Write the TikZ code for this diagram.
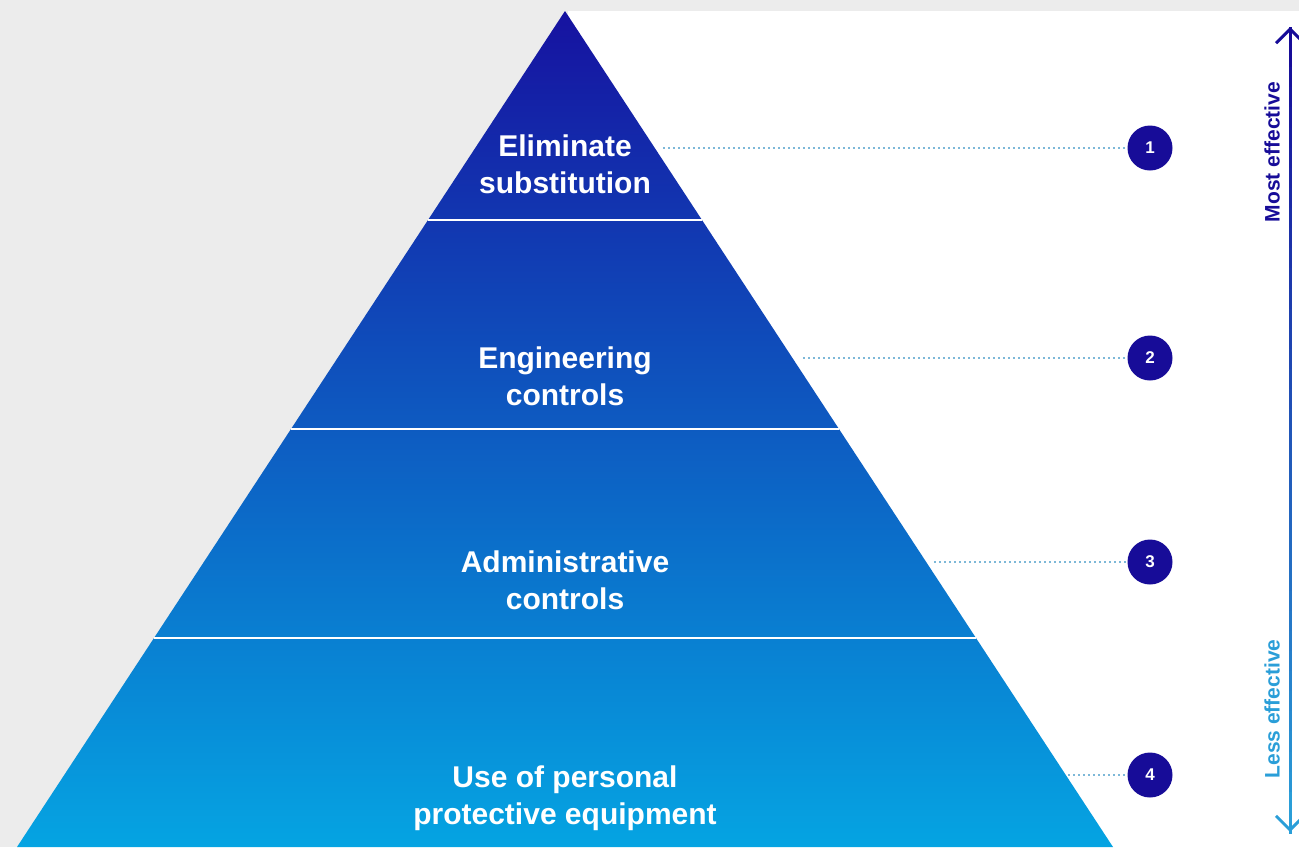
\documentclass[tikz,border=0pt]{standalone}
\usepackage{fontspec}
\setmainfont{Liberation Sans}
\usetikzlibrary{calc,arrows.meta}
\definecolor{bggray}{HTML}{ECECEC}
\definecolor{navy}{HTML}{170C98}
\definecolor{topblue}{HTML}{1612A0}
\definecolor{midblue}{HTML}{0E5CC2}
\definecolor{botblue}{HTML}{05A4E2}
\definecolor{lessblue}{HTML}{2A9ED8}
\definecolor{dotblue}{HTML}{7DB8D8}
\tikzset{
  level/.style={text=white,font=\bfseries\fontsize{30}{37}\selectfont,align=center},
  badge/.style={circle,fill=navy,minimum size=45pt,inner sep=0pt,text=white,font=\bfseries\fontsize{17}{17}\selectfont},
  leader/.style={dotblue,line width=2pt,dash pattern=on 2pt off 3pt},
  scalelabel/.style={rotate=90,font=\bfseries\fontsize{21}{21}\selectfont}
}
\begin{document}
\begin{tikzpicture}[x=1pt,y=-1pt]
\useasboundingbox (0,0) rectangle (1299,847);
\fill[bggray] (0,0) rectangle (1299,847);
\fill[white] (568,11) rectangle (1299,847);
% pyramid
\coordinate (apex) at (565,11); \coordinate (bl) at (17,847); \coordinate (br) at (1113,847);
\shade[top color=topblue,middle color=midblue,bottom color=botblue] (apex)--(br)--(bl)--cycle;
\foreach \t in {.25,.5,.75}
  \draw[white,line width=2.5pt] ($(apex)!\t!(bl)$)--($(apex)!\t!(br)$);
\foreach \i/\y/\xs/\ty/\txt in {1/148/663/164/{Eliminate\\substitution},
    2/358/803/376/{Engineering\\controls},3/562/934/580/{Administrative\\controls},
    4/775/1068/798/{Use of personal\\protective equipment}}{
  \node[level] (l\i) at (565,\ty) {\txt};
  \node[badge] (n\i) at (1150,\y) {\i};
  \coordinate (d\i) at (\xs,\y);
  \draw[leader] (d\i)--(n\i);
}
% effectiveness scale
\coordinate (top) at (1290,27); \coordinate (bot) at (1290,832);
\foreach \k in {0,...,39}{
  \pgfmathsetmacro{\p}{100-\k*100/39}
  \draw[navy!\p!lessblue,line width=3pt] ($(top)!\k/40!(bot)$)--($(top)!{(\k+1.1)/40}!(bot)$);
}
\draw[navy,line width=3pt,-{Straight Barb[length=14pt,width=28pt]}] ($(top)!.05!(bot)$)--(top);
\draw[lessblue,line width=3pt,-{Straight Barb[length=14pt,width=28pt]}] ($(top)!.95!(bot)$)--(bot);
\node[scalelabel,text=navy] (most) at (1272,152) {Most effective};
\node[scalelabel,text=lessblue] (less) at (1272,709) {Less effective};
\end{tikzpicture}
\end{document}
